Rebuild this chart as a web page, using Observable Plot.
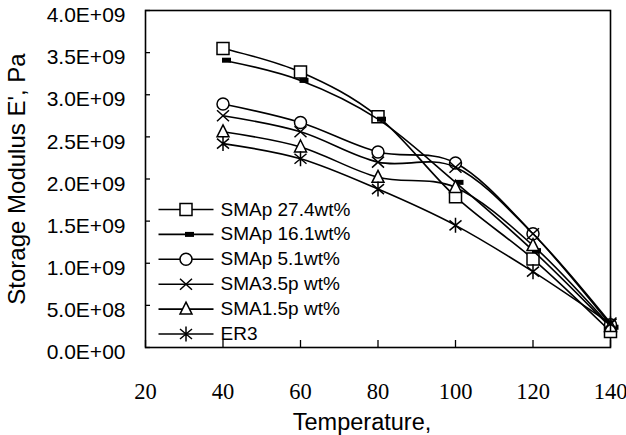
<!DOCTYPE html>
<html><head><meta charset="utf-8">
<script src="https://cdn.jsdelivr.net/npm/d3@7"></script>
<script src="https://cdn.jsdelivr.net/npm/@observablehq/plot@0.6"></script>
<style>body{margin:0;background:#fff}</style>
</head><body><div id="chart"></div>
<script>
const temperature = [40, 60, 80, 100, 120, 140];
const seriesNames = ["SMAp 27.4wt%", "SMAp 16.1wt%", "SMAp 5.1wt%", "SMA3.5p wt%", "SMA1.5p wt%", "ER3"];
const smap274 = [3.55e9, 3.27e9, 2.74e9, 1.79e9, 1.05e9, 0.19e9];
const smap161 = [3.41e9, 3.17e9, 2.71e9, 1.96e9, 1.15e9, 0.24e9];
const smap51  = [2.89e9, 2.67e9, 2.32e9, 2.19e9, 1.35e9, 0.27e9];
const sma35p  = [2.75e9, 2.56e9, 2.20e9, 2.14e9, 1.35e9, 0.29e9];
const sma15p  = [2.56e9, 2.38e9, 2.02e9, 1.90e9, 1.21e9, 0.25e9];
const er3     = [2.42e9, 2.24e9, 1.88e9, 1.45e9, 0.90e9, 0.28e9];
const seriesValues = [smap274, smap161, smap51, sma35p, sma15p, er3];
const xTicks = [20, 40, 60, 80, 100, 120, 140];
const yTicks = [0, 0.5e9, 1e9, 1.5e9, 2e9, 2.5e9, 3e9, 3.5e9, 4e9];
const xLabel = "Temperature,";
const yLabel = "Storage Modulus E', Pa";

// marker shapes (Excel-like)
const symSquare = {draw(c){c.rect(-6,-6,12,12);}};
const symDash = {draw(c){c.rect(-1,-2.5,9,5);}};
const symCircle = {draw(c){c.moveTo(6,0);c.arc(0,0,6,0,2*Math.PI);}};
const symTimes = {draw(c){c.moveTo(-6,-5.5);c.lineTo(6,5.5);c.moveTo(-6,5.5);c.lineTo(6,-5.5);}};
const symTriangle = {draw(c){c.moveTo(0,-7);c.lineTo(6,5);c.lineTo(-6,5);c.closePath();}};
const symAsterisk = {draw(c){c.moveTo(-6,-5);c.lineTo(6,5);c.moveTo(-6,5);c.lineTo(6,-5);c.moveTo(0,-7.5);c.lineTo(0,7.5);}};
const symLegendLine = {draw(c){c.moveTo(-27.5,0);c.lineTo(27.5,0);}};

const markerStyles = [
  {symbol: symSquare, fill: "white", stroke: "black"},
  {symbol: symDash, fill: "black", stroke: "none"},
  {symbol: symCircle, fill: "white", stroke: "black"},
  {symbol: symTimes, fill: "none", stroke: "black"},
  {symbol: symTriangle, fill: "white", stroke: "black"},
  {symbol: symAsterisk, fill: "none", stroke: "black"}
];

const fmtE = v => {
  if (v === 0) return "0.0E+00";
  const e = Math.floor(Math.log10(v) + 1e-9);
  const m = v / Math.pow(10, e);
  return m.toFixed(1) + "E+" + String(e).padStart(2, "0");
};
const sans = "Liberation Sans, Arial, sans-serif";

const marks = [];
marks.push(Plot.frame({stroke: "black", strokeWidth: 1.6}));
marks.push(Plot.axisY(yTicks, {tickSize: 0, tickPadding: 20, tickFormat: fmtE, fontSize: 21, dy: 5, label: null, fontFamily: sans}));
marks.push(Plot.axisY(yTicks, {tickSize: 5, dx: 5, tickFormat: () => "", label: null, strokeWidth: 1.3}));
marks.push(Plot.axisY([], {tickSize: 0, tickFormat: () => "", label: yLabel, labelAnchor: "center", labelArrow: "none", labelOffset: 138, fontSize: 24, fontFamily: sans}));
marks.push(Plot.axisX(xTicks, {tickSize: 0, tickPadding: 36, tickFormat: d => String(d), fontSize: 22.5, label: null, fontFamily: "Liberation Serif, Times New Roman, serif"}));
marks.push(Plot.axisX(xTicks, {tickSize: 7, dy: -7, tickFormat: () => "", label: null, strokeWidth: 1.3}));

const legendRows = [209, 233.9, 258.8, 283.7, 308.6, 333.5];
seriesNames.forEach((name, i) => {
  const data = temperature.map((t, j) => ({t, v: seriesValues[i][j]}));
  const ms = markerStyles[i];
  marks.push(Plot.line(data, {x: "t", y: "v", curve: "cardinal", stroke: "black", strokeWidth: 1.6}));
  marks.push(Plot.dot(data, {x: "t", y: "v", symbol: ms.symbol, fill: ms.fill, stroke: ms.stroke, strokeWidth: 1.5}));
  // legend
  marks.push(Plot.dot([name], {frameAnchor: "top-left", dx: 40.5, dy: legendRows[i] - 10, symbol: symLegendLine, stroke: "black", strokeWidth: 1.6}));
  marks.push(Plot.dot([name], {frameAnchor: "top-left", dx: 40.5, dy: legendRows[i] - 10, symbol: ms.symbol, fill: ms.fill, stroke: ms.stroke, strokeWidth: 1.5}));
  marks.push(Plot.text([name], {frameAnchor: "top-left", dx: 75, dy: legendRows[i] - 10, text: d => d, textAnchor: "start", lineAnchor: "middle", fontSize: 19, fill: "black", fontFamily: sans}));
});

marks.push(Plot.text([xLabel], {frameAnchor: "bottom", dx: -16, dy: 75, text: d => d, fontSize: 23.5, lineAnchor: "middle", fill: "black", fontFamily: sans}));

const chart = Plot.plot({
  width: 626, height: 435,
  marginLeft: 145, marginRight: 16, marginTop: 10, marginBottom: 88,
  x: {domain: [20, 140]},
  y: {domain: [0, 4e9]},
  style: {fontFamily: sans, color: "black", background: "white", overflow: "visible"},
  marks
});
document.getElementById("chart").appendChild(chart);
</script>
</body></html>
